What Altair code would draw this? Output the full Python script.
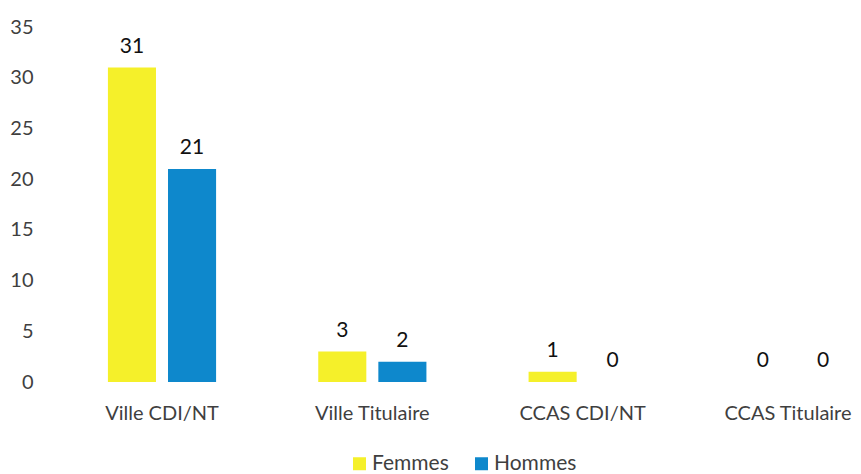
import altair as alt
import pandas as pd

categories = ["Ville CDI/NT", "Ville Titulaire", "CCAS CDI/NT", "CCAS Titulaire"]
series = ["Femmes", "Hommes"]
femmes = [31, 3, 1, 0]
hommes = [21, 2, 0, 0]
y_ticks = [0, 5, 10, 15, 20, 25, 30, 35]
colors = ["#F5F02A", "#0E88CC"]

rows = []
for c, f, h in zip(categories, femmes, hommes):
    rows.append({"cat": c, "sexe": "Femmes", "val": f})
    rows.append({"cat": c, "sexe": "Hommes", "val": h})
df = pd.DataFrame(rows)

FONT = "Lato"
GREY = "#3f3f3f"

base = alt.Chart(df).encode(
    x=alt.X(
        "cat:N",
        sort=categories,
        scale=alt.Scale(range=[0, 859], paddingInner=0, paddingOuter=0.042),
        axis=alt.Axis(
            title=None, labelAngle=0, ticks=False, tickSize=0, domain=False,
            labelFontSize=20, labelColor=GREY, labelPadding=21, labelFont=FONT,
            labelOffset={
                "condition": {"test": "datum.value === 'CCAS Titulaire'", "value": -5},
                "value": 0,
            },
        ),
    ),
    xOffset=alt.XOffset(
        "sexe:N", sort=series,
        scale=alt.Scale(paddingInner=0.2, paddingOuter=0.85),
    ),
    y=alt.Y(
        "val:Q",
        scale=alt.Scale(domain=[0, 35]),
        axis=alt.Axis(
            title=None, values=y_ticks, grid=False, domain=False, ticks=False,
            tickSize=0, labelFontSize=20, labelColor=GREY, labelPadding=15,
            labelFont=FONT,
        ),
    ),
)

bars = base.mark_bar().encode(
    color=alt.Color(
        "sexe:N", sort=series,
        scale=alt.Scale(domain=series, range=colors),
        legend=alt.Legend(
            title=None, orient="none", direction="horizontal",
            legendX=301, legendY=426, symbolType="square", symbolSize=169,
            symbolStrokeWidth=0, labelFontSize=21, labelColor=GREY,
            labelFont=FONT, labelOffset=2, columnPadding=22, padding=0,
        ),
    )
)

labels = base.mark_text(
    baseline="alphabetic", dy=-15, fontSize=21, color="#111111", font=FONT
).encode(text="val:Q")

chart = (
    alt.layer(bars, labels)
    .properties(
        width=805, height=355,
        background="white",
        autosize=alt.AutoSizeParams(type="none"),
        padding={"left": 40, "top": 19, "right": 0, "bottom": 92},
    )
    .configure_view(stroke="transparent", strokeWidth=0)
)

chart.save("out.html", embed_options={"renderer": "svg", "actions": False})
